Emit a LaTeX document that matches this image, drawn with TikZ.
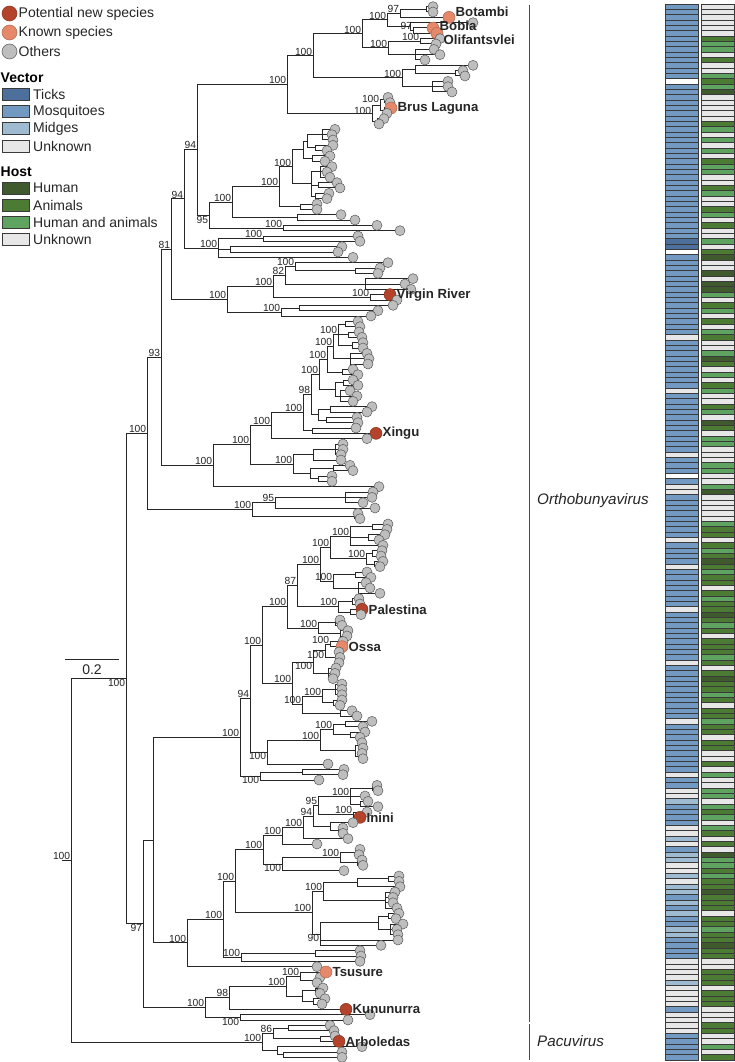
\documentclass[tikz,border=0pt]{standalone}
\usepackage{fontspec}
\setmainfont{Liberation Sans}
\usepackage{xcolor}
\usepackage{tikz}
\pgfdeclarelayer{fg}
\pgfdeclarelayer{lab}
\pgfsetlayers{main,fg,lab}
\definecolor{newred}{HTML}{B3432B}
\definecolor{knownor}{HTML}{E5896A}
\definecolor{dotgray}{HTML}{BEBEBE}
\definecolor{vT}{HTML}{4C6F9C}
\definecolor{vM}{HTML}{7199C1}
\definecolor{vD}{HTML}{9EBBD1}
\definecolor{vU}{HTML}{E7E7E7}
\definecolor{vW}{HTML}{FFFFFF}
\definecolor{hH}{HTML}{3F5A2C}
\definecolor{hA}{HTML}{4C7C34}
\definecolor{hB}{HTML}{5FA360}
\definecolor{hU}{HTML}{E7E7E7}
\definecolor{hW}{HTML}{FFFFFF}
\definecolor{cellline}{HTML}{3A3A3A}
\newcounter{bsn}
\newcommand{\clade}[4]{\draw[branch] (#1,{(#3+#4)/2}) -- (#2,{(#3+#4)/2}) (#2,#3) -- (#2,#4);}
\newcommand{\cladeup}[6][0pt]{\clade{#2}{#3}{#4}{#5}\stepcounter{bsn}\node[boot,anchor=south east,yshift=#1] (bs\arabic{bsn}) at (#3,{(#4+#5)/2}) {#6};}
\newcommand{\cladedn}[5]{\clade{#1}{#2}{#3}{#4}\stepcounter{bsn}\node[boot,anchor=north east] (bs\arabic{bsn}) at (#2,{(#3+#4)/2}) {#5};}
\newcommand{\leaf}[3]{\draw[branch] (#1,#3) -- (#2,#3);
  \begin{pgfonlayer}{fg}\filldraw[others] (#2,#3) circle[radius=5pt];\end{pgfonlayer}}
\newcommand{\leafname}[7][0pt]{\draw[branch] (#2,#4) -- (#3,#4);
  \begin{pgfonlayer}{fg}\filldraw[#5] (#3,#4) circle[radius=6pt];\end{pgfonlayer}
  \begin{pgfonlayer}{lab}\node[tiplab,anchor=west,xshift=6.5pt,yshift=#1] (#6) at (#3,#4) {#7};\end{pgfonlayer}}

\begin{document}
\begin{tikzpicture}[x=1pt,y=-1pt,
  branch/.style={line width=1pt,line cap=rect,black!85},
  cell/.style={draw=cellline,line width=0.7pt},
  others/.style={fill=dotgray,draw=black!65,line width=0.5pt},
  newsp/.style={fill=newred,draw=newred!75!black,line width=0.5pt},
  knownsp/.style={fill=knownor,draw=knownor!75!black,line width=0.5pt},
  boot/.style={font=\fontsize{10.3}{11}\selectfont,inner sep=0.6pt,text=black!85},
  tiplab/.style={font=\fontsize{13.2}{14}\selectfont\bfseries,inner sep=0pt,text=black!85},
  legtext/.style={font=\fontsize{14}{16}\selectfont,inner sep=0pt,text=black!85,anchor=west},
  legtitle/.style={font=\fontsize{14}{16}\selectfont\bfseries,inner sep=0pt,anchor=west},
  cladebar/.style={line width=0.9pt,black!70},
  cladename/.style={font=\fontsize{15.2}{17}\selectfont\itshape,inner sep=0pt,anchor=west,text=black!85}]
\fill[white] (0,0) rectangle (735,1062);
\useasboundingbox (0,0) rectangle (735,1062);

\filldraw[newsp] (9.5,13.5) circle[radius=7.5pt];
\node[legtext] (lnew) at (18.5,13.5) {Potential new species};
\filldraw[knownsp] (9.5,32.5) circle[radius=7.5pt];
\node[legtext] (lknown) at (18.5,32.5) {Known species};
\filldraw[others] (9.5,51.5) circle[radius=7.5pt];
\node[legtext] (lothers) at (18.5,51.5) {Others};
\node[legtitle] (lvector) at (0.5,78) {Vector};
\filldraw[cell,fill=vT] (2,88) rectangle (29,100);
\node[legtext] (lticks) at (33,94) {Ticks};
\filldraw[cell,fill=vM] (2,105.5) rectangle (29,117.5);
\node[legtext] (lmosq) at (33,111.5) {Mosquitoes};
\filldraw[cell,fill=vD] (2,122.5) rectangle (29,134.5);
\node[legtext] (lmidges) at (33,128.5) {Midges};
\filldraw[cell,fill=vU] (2,140) rectangle (29,152);
\node[legtext] (lvunk) at (33,146) {Unknown};
\node[legtitle] (lhost) at (0.5,172) {Host};
\filldraw[cell,fill=hH] (2,182) rectangle (29,194);
\node[legtext] (lhuman) at (33,188) {Human};
\filldraw[cell,fill=hA] (2,199) rectangle (29,211);
\node[legtext] (lanimals) at (33,205) {Animals};
\filldraw[cell,fill=hB] (2,216) rectangle (29,228);
\node[legtext] (lboth) at (33,222) {Human and animals};
\filldraw[cell,fill=hU] (2,233) rectangle (29,245);
\node[legtext] (lhunk) at (33,239) {Unknown};

\draw[branch,line cap=butt] (65,659) -- (119,659);
\node[legtext,anchor=center] (scale) at (92,669.5) {0.2};

\begin{scope}[y=-5.3333pt,yshift=-6.667pt]
\foreach \c [count=\r from 0] in {M,M,M,M,M,M,M,M,M,M, M,M,M,M,W,M,M,M,M,M,
  M,M,M,M,M,M,M,M,M,M, M,M,M,M,M,M,M,M,M,M, M,M,M,M,T,T,W,M,M,M,
  M,M,M,M,M,M,M,M,M,M, M,M,U,M,M,M,M,M,M,M, M,M,U,M,M,M,M,M,M,M,
  M,M,M,M,U,M,M,M,W,M, U,U,M,M,M,M,M,M,M,M, U,M,M,M,M,U,M,M,M,M,
  M,M,M,U,M,M,M,M,M,M, M,M,M,U,M,M,M,M,M,M, M,M,M,M,U,M,M,M,M,M,
  M,M,M,M,U,M,M,U,U,D, M,M,M,M,U,U,D,U,M,D, D,U,U,D,U,D,D,M,D,M,
  D,M,M,D,D,M,M,M,M,U, U,U,U,D,U,U,U,U,M,U, U,U,U,M,M,M,M,M}
  {\filldraw[cell,fill=v\c] (665,\r-0.5) rectangle (698,\r+0.5);}
\foreach \c [count=\r from 0] in {U,U,U,U,U,U,A,B,B,U, A,U,U,B,A,B,H,U,U,U,
  U,U,A,B,U,B,U,B,U,A, B,B,U,U,A,B,U,U,A,B, U,A,U,U,B,U,A,H,U,U,
  H,U,H,H,B,U,A,B,U,A, U,B,A,U,U,B,H,A,U,B, U,A,B,U,U,A,B,U,H,A,
  U,B,B,U,U,U,B,B,U,U, B,H,U,U,U,U,U,B,A,A, U,A,B,A,H,A,B,A,A,U,
  A,B,A,A,H,A,B,A,U,A, A,A,B,A,U,A,H,A,A,B, A,U,A,A,B,A,A,U,A,A,
  U,U,A,U,B,U,U,B,B,U, B,A,B,U,B,A,U,A,U,H, B,B,A,B,A,A,H,A,A,A,
  U,A,A,B,A,A,H,A,A,U, U,A,A,A,U,A,A,A,U,U, U,A,A,U,U,B,U,A}
  {\filldraw[cell,fill=h\c] (701,\r-0.5) rectangle (734,\r+0.5);}

\draw[cladebar] (529,-0.4) -- (529,190.3);
\draw[cladebar] (529,190.8) -- (529,197.5);
\node[cladename] (ortho) at (537,92.7) {Orthobunyavirus};
\node[cladename] (pacu) at (537,193.9) {Pacuvirus};

\clade{400}{426}{0}{1}
\leaf{426}{433}{0}
\leaf{426}{433}{1}
\cladeup{387}{400}{0.5}{2}{97}
\leafname[6pt]{400}{449}{2}{knownsp}{botambi}{Botambi}
\leaf{410}{473}{3}
\cladeup{410}{413}{4}{5}{97}
\leafname[2.5pt]{413}{433}{4}{knownsp}{bobia}{Bobia}
\leafname[-6.5pt]{413}{437}{5}{knownsp}{olifantsvlei}{Olifantsvlei}
\clade{387}{410}{3}{4.5}
\cladeup{362}{387}{1.25}{3.75}{100}
\cladeup{388}{420}{6}{7}{100}
\leaf{420}{440}{6}
\leaf{420}{436}{7}
\clade{388}{415}{8}{10}
\leaf{415}{434}{8}
\leaf{415}{440}{9}
\leaf{415}{425}{10}
\cladeup{362}{388}{6.5}{9}{100}
\cladeup{313}{362}{2.5}{7.75}{100}
\clade{415}{455}{12}{13}
\leaf{455}{463}{12}
\leaf{455}{465}{13}
\clade{402}{415}{11}{12.5}
\leaf{415}{473}{11}
\clade{402}{432}{14}{16}
\leaf{432}{448}{14}
\leaf{432}{448}{15}
\leaf{432}{452}{16}
\cladeup{313}{402}{11.75}{15}{100}
\cladeup{287}{313}{5.125}{13.375}{100}
\clade{380}{384}{17}{18}
\leaf{384}{388}{17}
\leaf{384}{390}{18}
\clade{380}{384}{19}{20}
\leafname{384}{391}{19}{knownsp}{bruslaguna}{Brus Laguna}
\leaf{384}{387}{20}
\cladeup[2pt]{372}{380}{17.5}{19.5}{100}
\clade{372}{377}{21}{22}
\leaf{377}{384}{21}
\leaf{377}{379}{22}
\cladeup[-2.5pt]{287}{372}{18.5}{21.5}{100}
\cladeup{197}{287}{9.25}{20}{100}

\clade{307}{322}{23}{25}
\leaf{322}{335}{23}
\leaf{322}{332}{24}
\leaf{322}{333}{25}
\clade{307}{315}{26}{27}
\leaf{315}{333}{26}
\leaf{315}{327}{27}
\clade{303}{307}{24}{26.5}
\clade{303}{312}{28}{29}
\leaf{312}{330}{28}
\leaf{312}{325}{29}
\clade{292}{303}{25.25}{28.5}
\clade{311}{320}{30}{32}
\leaf{320}{332}{30}
\leaf{320}{327}{31}
\leaf{320}{330}{32}
\clade{311}{318}{33}{34}
\leaf{318}{337}{33}
\leaf{318}{340}{34}
\clade{311}{315}{35}{36}
\leaf{315}{329}{35}
\leaf{315}{327}{36}
\clade{292}{311}{31}{35.5}
\cladeup{279}{292}{26.875}{33.25}{100}
\clade{279}{300}{37}{38}
\leaf{300}{317}{37}
\leaf{300}{317}{38}
\cladeup{232}{279}{30.0625}{37.5}{100}
\clade{232}{297}{39}{40}
\leaf{297}{341}{39}
\leaf{297}{355}{40}
\cladeup{209}{232}{33.78125}{39.5}{100}
\cladeup{209}{283}{41}{42}{100}
\leaf{283}{377}{41}
\leaf{283}{400}{42}
\cladedn{197}{209}{36.640625}{41.5}{95}
\cladeup{184}{197}{14.625}{39.0703}{94}
\cladeup{218}{263}{43}{44}{100}
\leaf{263}{358}{43}
\leaf{263}{360}{44}
\clade{218}{230}{45}{46}
\leaf{230}{342}{45}
\leaf{230}{338}{46}
\leaf{218}{353}{47}
\cladeup{184}{218}{43.5}{47}{100}
\cladeup{171}{184}{26.8477}{45.25}{94}

\clade{295}{355}{49}{50}
\leaf{355}{380}{49}
\leaf{355}{378}{50}
\leaf{295}{388}{48}
\cladeup{285}{295}{48}{49.5}{100}
\clade{285}{365}{51}{53}
\leaf{365}{413}{51}
\leaf{365}{405}{52}
\leaf{365}{411}{53}
\cladeup{273}{285}{48.75}{52}{82}
\cladeup{273}{370}{54}{55}{100}
\leafname{370}{390}{54}{newsp}{virginriver}{Virgin River}
\leaf{370}{397}{55}
\cladeup{227}{273}{50.375}{54.5}{100}
\clade{281}{299}{56}{57}
\leaf{299}{393}{56}
\leaf{299}{378}{57}
\leaf{281}{371}{58}
\cladeup{227}{281}{56.5}{58}{100}
\cladeup{171}{227}{52.4375}{57.25}{100}
\cladeup{161}{171}{36.0488}{54.84375}{81}

\clade{338}{345}{59}{60}
\leaf{345}{358}{59}
\leaf{345}{360}{60}
\clade{338}{348}{61}{62}
\leaf{348}{359}{61}
\leaf{348}{362}{62}
\clade{338}{352}{63}{64}
\leaf{352}{363}{63}
\leaf{352}{363}{64}
\cladeup{333}{338}{59.5}{63.5}{100}
\clade{333}{350}{65}{67}
\leaf{350}{367}{65}
\leaf{350}{369}{66}
\leaf{350}{368}{67}
\cladeup{327}{333}{61.5}{66}{100}
\clade{327}{342}{68}{69}
\leaf{342}{353}{68}
\leaf{342}{358}{69}
\cladeup{319}{327}{63.75}{68.5}{100}
\clade{335}{343}{70}{71}
\leaf{343}{353}{70}
\leaf{343}{358}{71}
\clade{335}{340}{72}{74}
\leaf{340}{350}{72}
\leaf{340}{357}{73}
\leaf{340}{353}{74}
\clade{319}{335}{70.5}{73}
\cladeup{311}{319}{66.125}{71.75}{100}
\clade{318}{330}{75}{76}
\leaf{330}{372}{75}
\leaf{330}{367}{76}
\clade{318}{326}{77}{78}
\leaf{326}{357}{77}
\leaf{326}{358}{78}
\clade{311}{318}{75.5}{77.5}
\cladeup{303}{311}{68.9375}{76.5}{98}
\clade{303}{312}{79}{80}
\leaf{312}{356}{79}
\leafname{312}{376}{80}{newsp}{xingu}{Xingu}
\cladeup{271}{303}{72.71875}{79.5}{100}
\leaf{271}{367}{81}
\cladeup{250}{271}{76.1094}{81}{100}
\clade{313}{335}{82}{84}
\leaf{335}{343}{82}
\leaf{335}{343}{83}
\leaf{335}{341}{84}
\clade{293}{313}{83}{85}
\leaf{313}{341}{85}
\clade{310}{333}{86}{87}
\leaf{333}{350}{86}
\leaf{333}{353}{87}
\clade{310}{318}{88}{89}
\leaf{318}{332}{88}
\leaf{318}{332}{89}
\clade{293}{310}{86.5}{88.5}
\cladeup{250}{293}{84}{87.5}{100}
\cladeup{213}{250}{78.5547}{85.75}{100}
\leaf{213}{379}{90}
\cladeup{161}{213}{82.1523}{90}{100}
\cladeup{147}{161}{45.4463}{86.0762}{93}

\clade{275}{345}{91}{93}
\leaf{345}{373}{91}
\leaf{345}{372}{92}
\leaf{345}{363}{93}
\leaf{275}{375}{94}
\cladeup{252}{275}{92}{94}{95}
\clade{252}{354}{95}{96}
\leaf{354}{358}{95}
\leaf{354}{360}{96}
\cladeup{147}{252}{93}{95.5}{100}
\cladeup{126}{147}{65.7613}{94.25}{100}

\clade{350}{372}{97}{98}
\leaf{372}{388}{97}
\leaf{372}{387}{98}
\clade{350}{368}{99}{100}
\leaf{368}{385}{99}
\leaf{368}{379}{100}
\leaf{350}{383}{101}
\cladeup{330}{350}{97.5}{101}{100}
\clade{366}{372}{102}{103}
\leaf{372}{382}{102}
\leaf{372}{381}{103}
\clade{366}{374}{104}{105}
\leaf{374}{383}{104}
\leaf{374}{380}{105}
\cladeup{330}{366}{102.5}{104.5}{100}
\cladeup{320}{330}{99.25}{103.5}{100}
\clade{333}{355}{106}{107}
\leaf{355}{367}{106}
\leaf{355}{371}{107}
\clade{333}{358}{108}{110}
\leaf{358}{366}{108}
\leaf{358}{370}{109}
\leaf{358}{380}{110}
\cladeup{320}{333}{106.5}{109}{100}
\cladeup{297}{320}{101.375}{107.75}{100}
\clade{338}{352}{111}{112}
\leaf{352}{359}{111}
\leaf{352}{360}{112}
\clade{338}{350}{113}{114}
\leafname{350}{362}{113}{newsp}{palestina}{Palestina}
\leaf{350}{361}{114}
\cladeup{297}{338}{111.5}{113.5}{100}
\cladeup{287}{297}{104.5625}{112.5}{87}
\clade{318}{335}{115}{116}
\leaf{335}{340}{115}
\leaf{335}{342}{116}
\clade{318}{340}{117}{118}
\leaf{340}{348}{117}
\leaf{340}{347}{118}
\cladeup{287}{318}{115.5}{117.5}{100}
\cladeup{262}{287}{108.53125}{116.5}{100}
\cladeup{325}{330}{119}{120}{100}
\leaf{330}{343}{119}
\leafname{330}{342}{120}{knownsp}{ossa}{Ossa}
\clade{325}{335}{121}{123}
\leaf{335}{339}{121}
\leaf{335}{340}{122}
\leaf{335}{339}{123}
\cladedn{313}{325}{119.5}{122}{100}
\clade{313}{328}{124}{126}
\leaf{328}{336}{124}
\leaf{328}{335}{125}
\leaf{328}{333}{126}
\cladedn{292}{313}{120.75}{125}{100}
\clade{322}{335}{127}{129}
\leaf{335}{342}{127}
\leaf{335}{342}{128}
\leaf{335}{342}{129}
\clade{322}{333}{130}{131}
\leaf{333}{342}{130}
\leaf{333}{340}{131}
\cladeup{302}{322}{128}{130.5}{100}
\clade{302}{340}{132}{133}
\leaf{340}{352}{132}
\leaf{340}{357}{133}
\cladeup{292}{302}{129.25}{132.5}{100}
\cladeup{262}{292}{122.875}{130.875}{100}
\cladeup{250}{262}{112.5156}{126.875}{100}
\clade{333}{345}{134}{135}
\leaf{345}{372}{134}
\leaf{345}{363}{135}
\clade{333}{350}{136}{137}
\leaf{350}{365}{136}
\leaf{350}{360}{137}
\cladeup{320}{333}{134.5}{136.5}{100}
\clade{355}{358}{138}{139}
\leaf{358}{362}{138}
\leaf{358}{363}{139}
\clade{355}{358}{140}{141}
\leaf{358}{362}{140}
\leaf{358}{363}{141}
\clade{320}{355}{138.5}{140.5}
\cladeup{267}{320}{135.5}{139.5}{100}
\leaf{267}{328}{142}
\cladedn{250}{267}{137.5}{142}{100}
\cladeup{240}{250}{119.6953}{139.75}{94}
\clade{260}{302}{143}{144}
\leaf{302}{344}{143}
\leaf{302}{343}{144}
\leaf{260}{319}{145}
\cladedn{240}{260}{143.5}{145}{100}
\cladeup{153}{240}{129.7227}{144.25}{100}

\clade{350}{372}{146}{147}
\leaf{372}{377}{146}
\leaf{372}{378}{147}
\leaf{350}{365}{148}
\clade{350}{360}{149}{150}
\leaf{360}{368}{149}
\leaf{360}{378}{150}
\cladeup{318}{350}{146.5}{149.5}{100}
\cladeup{318}{353}{151}{152}{100}
\leaf{353}{367}{151}
\leafname{353}{360}{152}{newsp}{inini}{Inini}
\cladeup{313}{318}{148}{151.5}{95}
\clade{330}{338}{154}{155}
\leaf{338}{343}{154}
\leaf{338}{343}{155}
\leaf{330}{353}{153}
\clade{313}{330}{153}{154.5}
\cladeup{303}{313}{149.75}{153.75}{94}
\leaf{303}{348}{156}
\cladeup{282}{303}{151.75}{156}{100}
\leaf{282}{317}{157}
\cladeup{263}{282}{153.875}{157}{100}
\clade{340}{355}{158}{159}
\leaf{355}{360}{158}
\leaf{355}{359}{159}
\clade{340}{357}{160}{161}
\leaf{357}{362}{160}
\leaf{357}{363}{161}
\cladeup{282}{340}{158.5}{160.5}{100}
\leaf{282}{344}{162}
\cladedn{263}{282}{159.5}{162}{100}
\cladeup{235}{263}{155.4375}{160.75}{100}
\clade{357}{388}{163}{164}
\leaf{388}{399}{163}
\leaf{388}{399}{164}
\leaf{357}{400}{165}
\clade{323}{357}{163.5}{165}
\clade{323}{385}{166}{169}
\leaf{385}{395}{166}
\leaf{385}{393}{167}
\leaf{385}{393}{168}
\leaf{385}{397}{169}
\cladeup{312}{323}{164.25}{167.5}{100}
\clade{378}{388}{170}{171}
\leaf{388}{399}{170}
\leaf{388}{396}{171}
\clade{378}{390}{172}{174}
\leaf{390}{403}{172}
\leaf{390}{397}{173}
\leaf{390}{398}{174}
\clade{320}{378}{170.5}{173}
\leaf{320}{398}{175}
\leaf{320}{381}{176}
\cladedn{312}{320}{171.75}{176}{90}
\cladeup{235}{312}{165.875}{173.875}{100}
\cladeup{223}{235}{158.0938}{169.875}{100}
\clade{241}{315}{177}{178}
\leaf{315}{360}{177}
\leaf{315}{361}{178}
\leaf{241}{360}{179}
\cladeup{223}{241}{177.5}{179}{100}
\cladeup{187}{223}{163.9844}{178.25}{100}
\leaf{187}{317}{180}
\cladeup{153}{187}{171.1172}{180}{100}
\clade{143}{153}{136.9863}{175.5586}

\clade{300}{315}{182}{183}
\leaf{315}{320}{182}
\leaf{315}{317}{183}
\leafname{300}{326}{181}{knownsp}{tsusure}{Tsusure}
\cladeup{286}{300}{181}{182.5}{100}
\clade{302}{315}{184}{185}
\leaf{315}{323}{184}
\leaf{315}{320}{185}
\clade{302}{313}{186}{187}
\leaf{313}{325}{186}
\leaf{313}{322}{187}
\clade{286}{302}{184.5}{186.5}
\cladeup{229}{286}{181.75}{185.5}{100}
\leafname{229}{346}{188}{newsp}{kununurra}{Kununurra}
\cladeup{205}{229}{183.625}{188}{98}
\leaf{240}{370}{189}
\leaf{240}{348}{190}
\cladedn{205}{240}{189}{190}{100}
\cladeup{143}{205}{185.8125}{189.5}{100}
\cladedn{126}{143}{156.2725}{187.6563}{97}
\cladedn{71}{126}{80.0056}{171.9644}{100}

\clade{273}{288}{191}{192}
\leaf{288}{330}{191}
\leaf{288}{334}{192}
\clade{273}{320}{193}{194}
\leaf{320}{335}{193}
\leafname{320}{339}{194}{newsp}{arboledas}{Arboledas}
\cladeup{262}{273}{191.5}{193.5}{86}
\clade{277}{283}{196}{197}
\leaf{283}{342}{196}
\leaf{283}{342}{197}
\leaf{277}{362}{195}
\clade{262}{277}{195}{196.5}
\cladeup{71}{262}{192.5}{195.75}{100}
\cladeup{62}{71}{125.985}{194.125}{100}
\end{scope}
\end{tikzpicture}
\end{document}
